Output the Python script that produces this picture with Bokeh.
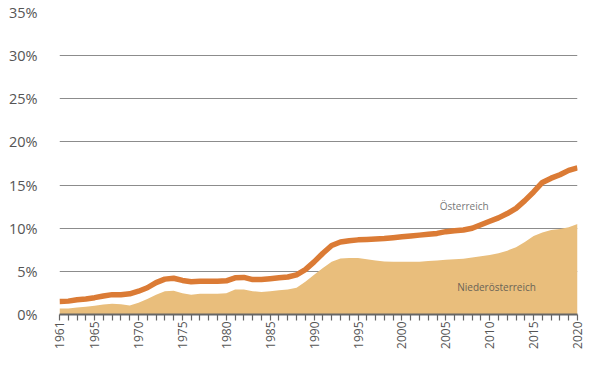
import math
from bokeh.plotting import figure
from bokeh.models import FixedTicker, Range1d, ColumnDataSource
from bokeh.core.properties import value
from bokeh.embed import file_html
from bokeh.resources import INLINE

years = list(range(1961, 2021))
oesterreich = [1.5, 1.55, 1.7, 1.8, 1.95, 2.15, 2.3, 2.3, 2.4, 2.7,
               3.1, 3.7, 4.1, 4.2, 3.95, 3.8, 3.85, 3.85, 3.85, 3.9,
               4.25, 4.3, 4.05, 4.05, 4.15, 4.25, 4.35, 4.6, 5.2, 6.1,
               7.1, 8.0, 8.4, 8.55, 8.65, 8.7, 8.75, 8.8, 8.9, 9.0,
               9.1, 9.2, 9.3, 9.4, 9.6, 9.7, 9.8, 10.0, 10.4, 10.8,
               11.2, 11.7, 12.3, 13.2, 14.2, 15.3, 15.8, 16.2, 16.7, 17.0]
niederoesterreich = [0.7, 0.7, 0.8, 0.9, 1.0, 1.15, 1.25, 1.2, 1.05, 1.35,
                     1.8, 2.3, 2.7, 2.75, 2.45, 2.3, 2.4, 2.4, 2.4, 2.45,
                     2.9, 2.9, 2.7, 2.6, 2.7, 2.8, 2.9, 3.1, 3.8, 4.6,
                     5.4, 6.1, 6.5, 6.55, 6.55, 6.4, 6.25, 6.15, 6.1, 6.1,
                     6.1, 6.1, 6.2, 6.25, 6.35, 6.4, 6.45, 6.6, 6.75, 6.9,
                     7.1, 7.4, 7.8, 8.4, 9.1, 9.5, 9.8, 9.9, 10.1, 10.5]
labelled_years = [1961, 1965, 1970, 1975, 1980, 1985, 1990, 1995, 2000, 2005, 2010, 2015, 2020]
y_ticks = [0, 5, 10, 15, 20, 25, 30, 35]
series_labels = ["Österreich", "Niederösterreich"]
label_x = [2004.3, 2006.3]
label_y = [12.6, 3.2]
label_colors = ["#777777", "#6a6356"]

FONT = "Open Sans"
GRAY = "#555555"

src = ColumnDataSource(dict(year=years, at=oesterreich, noe=niederoesterreich, zero=[0] * len(years)))
lbl = ColumnDataSource(dict(x=label_x, y=label_y, text=series_labels, color=label_colors))

p = figure(width=585, height=351, output_backend="svg", toolbar_location=None,
           x_range=Range1d(1961, 2020), y_range=Range1d(0, 35),
           min_border_left=59, min_border_right=8, min_border_top=12, min_border_bottom=34)
p.outline_line_color = None
p.background_fill_color = "white"
p.border_fill_color = "white"

p.varea(x="year", y1="zero", y2="noe", source=src, fill_color="#E9BE7C")
p.line(x="year", y="at", source=src, line_color="#DB7B35", line_width=5.5, line_join="round")

p.text(x="x", y="y", text="text", text_color="color", source=lbl, text_font=value(FONT),
       text_font_size="10px", text_baseline="middle", text_align="left")

# grid
p.xgrid.visible = False
p.ygrid.ticker = FixedTicker(ticks=y_ticks)
p.ygrid.grid_line_color = "#8c8c8c"
p.ygrid.grid_line_width = 1.2
p.ygrid.level = "underlay"

# y axis
p.yaxis.ticker = FixedTicker(ticks=y_ticks)
p.yaxis.major_label_overrides = {t: f"{t}%" for t in y_ticks}
p.yaxis.axis_line_color = None
p.yaxis.major_tick_line_color = None
p.yaxis.minor_tick_line_color = None
p.yaxis.major_label_standoff = 16
p.yaxis.major_label_text_font = FONT
p.yaxis.major_label_text_font_size = "14.5px"
p.yaxis.major_label_text_color = GRAY

# x axis
p.xaxis.ticker = FixedTicker(ticks=years)
p.xaxis.major_label_overrides = {y: (str(y) if y in labelled_years else "") for y in years}
p.xaxis.major_label_orientation = math.pi / 2
p.xaxis.axis_line_color = "#666666"
p.xaxis.axis_line_width = 2
p.xaxis.major_tick_line_color = "#666666"
p.xaxis.major_tick_line_width = 1.2
p.xaxis.major_tick_in = 0
p.xaxis.major_tick_out = 6
p.xaxis.minor_tick_line_color = None
p.xaxis.major_label_standoff = 1
p.xaxis.axis_label_standoff = 0
p.xaxis.major_label_text_font = FONT
p.xaxis.major_label_text_font_size = "12px"
p.xaxis.major_label_text_color = GRAY

open("out.html", "w").write(file_html(p, INLINE))
